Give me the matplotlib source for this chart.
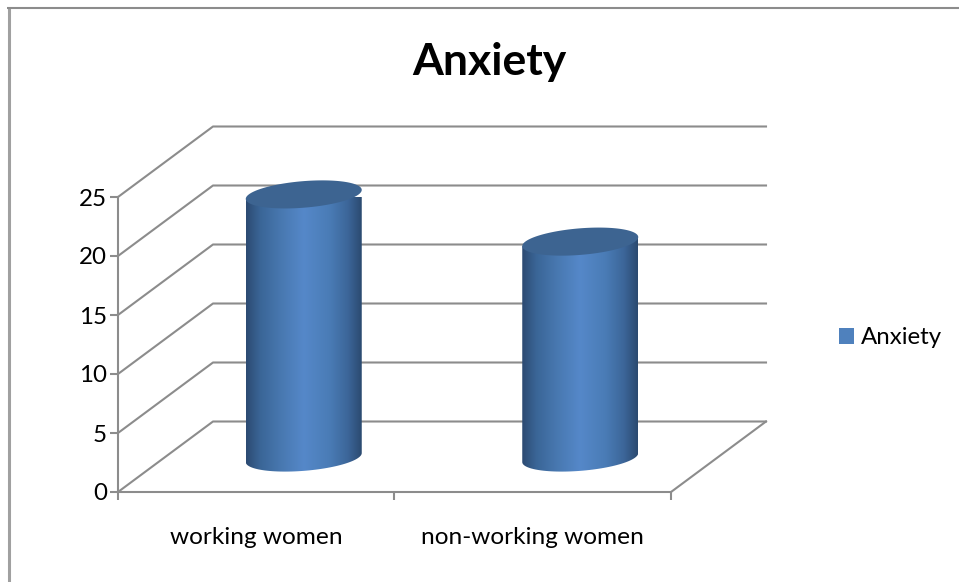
import numpy as np
import matplotlib
matplotlib.use('Agg')
from matplotlib import pyplot as plt
from matplotlib.colors import LinearSegmentedColormap
from matplotlib.lines import Line2D
from matplotlib.patches import Patch, Polygon

categories = ['working women', 'non-working women']
anxiety = [22.3, 18.3]
y_ticks = [0, 5, 10, 15, 20, 25]
series_name = 'Anxiety'

W, H = 959, 582
plt.rcParams['font.family'] = ['Lato', 'DejaVu Sans']

fig = plt.figure(figsize=(W / 100, H / 100), dpi=100)
# front plane of the fake 3d box
ax = fig.add_axes([118 / W, 1 - 492 / H, (671 - 118) / W, (492 - 197) / H])
ax.set_xlim(0, 2)
ax.set_ylim(0, 25)
ax.patch.set_visible(False)

px_x = 2 / (671 - 118)
px_y = 25 / (492 - 197)
depth_x = 95 * px_x
depth_y = 70.5 * px_y
grid = '#8c8c8c'

# walls
for v in y_ticks:
    ax.plot([0, depth_x, 2 + depth_x], [v, v + depth_y, v + depth_y], color=grid, lw=1.5, clip_on=False, zorder=1)
ax.plot([2, 2 + depth_x], [0, depth_y], color=grid, lw=1.5, clip_on=False, zorder=1)

# cylinders
cmap = LinearSegmentedColormap.from_list('cyl', [
    (0, '#2c4a72'), (0.12, '#3a6596'), (0.3, '#4878b0'), (0.5, '#5588c9'),
    (0.72, '#4a7cb6'), (0.88, '#3c6699'), (1, '#2b4a70')])
t = np.linspace(0, 2 * np.pi, 121)
for i, val in enumerate(anxiety):
    cx = i + 0.5 + depth_x / 2
    base = depth_y / 2 - 0.8 * px_y
    top = val + base
    half = 58 * px_x
    ex = half * np.cos(t)
    ey = 4.5 * px_y * np.cos(t) + 13.3 * px_y * np.sin(t)
    # body outline: up the left side, over to the right, round the lower rim
    low = t[60:121][::-1]
    verts = [(cx - half, top - 4.5 * px_y), (cx + half, top + 4.5 * px_y)]
    verts += list(zip(cx + half * np.cos(low), base + 4.5 * px_y * np.cos(low) + 13.3 * px_y * np.sin(low)))
    body = Polygon(verts, closed=True, transform=ax.transData, fc='none', ec='none')
    ax.add_patch(body)
    im = ax.imshow(np.linspace(0, 1, 256).reshape(1, -1), cmap=cmap, aspect='auto',
                   extent=[cx - half, cx + half, base - 2, top + 2], zorder=3)
    im.set_clip_path(body)
    ax.fill(cx + ex, top + ey, color='#3d6491', lw=0, zorder=4, clip_on=False)
ax.set_xlim(0, 2)
ax.set_ylim(0, 25)

# axes
for s in ['top', 'right']:
    ax.spines[s].set_visible(False)
for s in ['left', 'bottom']:
    ax.spines[s].set_color(grid)
    ax.spines[s].set_linewidth(1.5)
ax.set_yticks(y_ticks)
ax.set_xticks([0, 1, 2])
ax.set_xticklabels([])
ax.set_xticks([0.5, 1.5], labels=categories, minor=True)
ax.tick_params(axis='both', which='major', length=6, width=1.5, color=grid, labelsize=17.4, labelcolor='black', pad=2)
ax.tick_params(axis='x', which='minor', length=0, labelsize=17.6, pad=25)

fig.text(489.5 / W, 1 - 62 / H, series_name, ha='center', va='center', fontsize=32, fontweight='bold')

ax.legend(handles=[Patch(fc='#4f81bd', label=series_name)], loc='center left',
          bbox_to_anchor=(839 / W, 1 - 338 / H), bbox_transform=fig.transFigure, frameon=False,
          fontsize=17.3, handlelength=0.62, handleheight=0.62, handletextpad=0.29, borderpad=0, borderaxespad=0)

# chart area frame, only top and left show in the crop
fig.add_artist(Line2D([8.5 / W, 8.5 / W], [0, 1 - 7 / H], color='#a0a0a0', lw=2.2, solid_capstyle='butt'))
fig.add_artist(Line2D([7 / W, 1], [1 - 8 / H, 1 - 8 / H], color='#8c8c8c', lw=1.5, solid_capstyle='butt'))

fig.savefig('out.png', dpi=100)
